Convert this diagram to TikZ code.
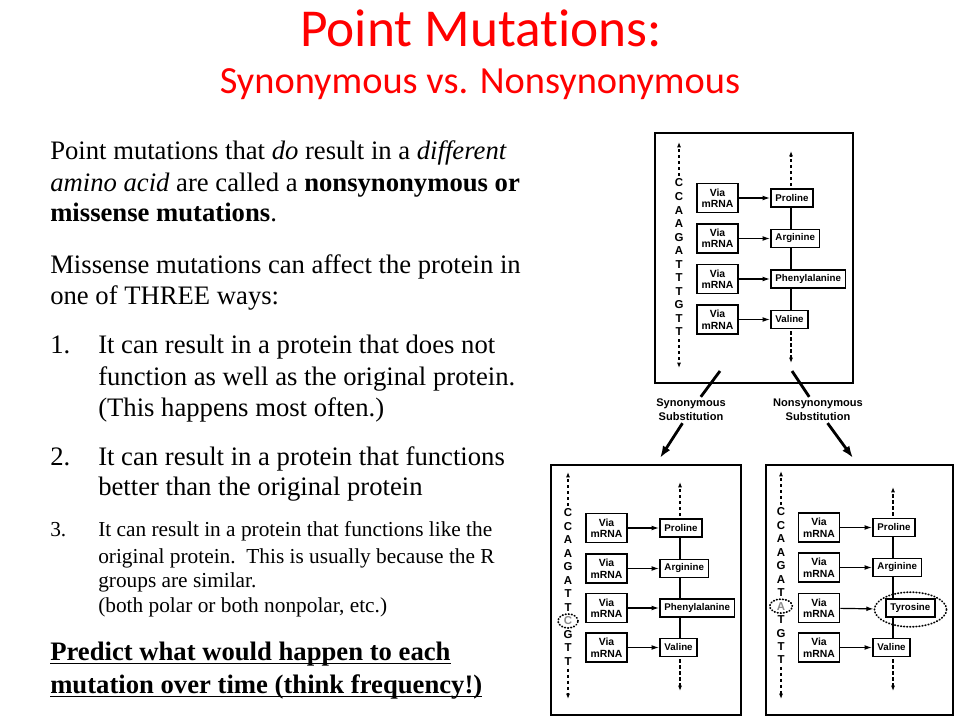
\documentclass[tikz,border=0pt]{standalone}
\usepackage{fontspec}
\setmainfont{Liberation Serif}
\newfontfamily\calibrifont[Ligatures=NoCommon]{Carlito}
\newfontfamily\arialfont{Liberation Sans}
\usetikzlibrary{arrows.meta,shapes.geometric}
\definecolor{titlered}{RGB}{255,0,0}
\definecolor{mutgray}{RGB}{140,140,140}
\newcommand{\myul}[1]{\setbox0\hbox{#1}\rlap{\rule[-3.3pt]{\wd0}{1.1pt}}\box0}
\begin{document}
\begin{tikzpicture}[x=0.75pt,y=-0.75pt,
  title/.style={anchor=base, inner sep=0, text=titlered},
  body/.style={anchor=base west, inner sep=0, font=\fontsize{20}{23}\selectfont},
  smalltext/.style={anchor=base west, inner sep=0, font=\fontsize{16}{18.4}\selectfont},
  predict/.style={anchor=base west, inner sep=0, font=\bfseries\fontsize{20}{23}\selectfont},
  panel/.style={draw, line width=2.1pt, inner sep=0},
  via/.style={draw, line width=1.2pt, minimum width=30.75pt, minimum height=21.75pt, inner sep=0, align=center, font=\arialfont\bfseries\fontsize{7.8}{8.6}\selectfont},
  amino/.style={draw, fill=white, line width=1.2pt, anchor=west, minimum height=13.5pt, inner xsep=3.5pt, inner ysep=0, font=\arialfont\bfseries\fontsize{7.3}{8}\selectfont},
  dna/.style={inner sep=0.6pt, font=\arialfont\bfseries\fontsize{8.6}{9}\selectfont},
  dnaarr/.style={line width=0.9pt, dash pattern=on 2.5pt off 2pt, shorten <=1.5pt, -{Latex[length=4pt,width=3pt]}},
  colline/.style={line width=1pt},
  viaarr/.style={line width=0.9pt, -{Latex[length=5.5pt,width=3.6pt]}},
  bigarr/.style={line width=2.1pt},
  bigarrh/.style={line width=2.1pt, -{Latex[length=9pt,width=6.5pt]}},
  sublabel/.style={align=center, inner sep=1.5pt, font=\arialfont\bfseries\fontsize{8.3}{10.5}\selectfont},
  mutring/.style={draw, ellipse, line width=1.3pt, dash pattern=on 0.5pt off 1.8pt, line cap=round, inner sep=0}
]
\fill[white] (0,0) rectangle (960,720);
\useasboundingbox (0,0) rectangle (960,720);

% ---------- titles
\node[title, font=\calibrifont\fontsize{40}{44}\selectfont] (t1) at (481,47) {Point Mutations:};
\node[title, font=\calibrifont\fontsize{28.8}{32}\selectfont] (t2) at (480,94) {Synonymous vs. Nonsynonymous};

% ---------- body text
\node[body] (p1a) at (50,160) {Point mutations that \textit{do} result in a \textit{different}};
\node[body] (p1b) at (50,192) {\textit{amino acid} are called a \textbf{nonsynonymous or}};
\node[body] (p1c) at (50,222) {\textbf{missense mutations}.};
\node[body] (p2a) at (50,274) {Missense mutations can affect the protein in};
\node[body] (p2b) at (50,304.5) {one of THREE ways:};
\node[body] (n1) at (50,353) {1.};
\node[body] (i1a) at (98,353) {It can result in a protein that does not};
\node[body] (i1b) at (98,385) {function as well as the original protein.};
\node[body] (i1c) at (98,416) {(This happens most often.)};
\node[body] (n2) at (50,465) {2.};
\node[body] (i2a) at (98,465) {It can result in a protein that functions};
\node[body] (i2b) at (98,495) {better than the original protein};
\node[smalltext] (n3) at (50,536) {3.};
\node[smalltext] (i3a) at (98,536) {It can result in a protein that functions like the};
\node[smalltext] (i3b) at (98,563) {original protein.\ \ This is usually because the R};
\node[smalltext] (i3c) at (98,587) {groups are similar.};
\node[smalltext] (i3d) at (98,612) {(both polar or both nonpolar, etc.)};
\node[predict] (q1) at (50,660) {\myul{Predict what would happen to each}};
\node[predict] (q2) at (50,693) {\myul{mutation over time (think frequency!)}};

% ---------- panels
\node[panel, minimum width=148.5pt, minimum height=187.5pt] (PT) at (754,258) {};
\node[panel, minimum width=142.5pt, minimum height=187.5pt] (PL) at (646,590) {};
\node[panel, minimum width=140.25pt, minimum height=187.5pt] (PR) at (859.5,590) {};

% ===== top panel
\foreach \L/\c [count=\i] in {C/black,C/black,A/black,A/black,G/black,A/black,T/black,T/black,T/black,G/black,T/black,T/black}
  \node[dna, text=\c] (td\i) at ({679},{183+(\i-1)*13.55}) {\L};
\coordinate (tdTop) at (679,142);
\coordinate (tdBot) at (679,368);
\draw[dnaarr] (td1) -- (tdTop);
\draw[dnaarr] (td12) -- (tdBot);

\foreach \y [count=\i] in {198,238.5,279,319.5}
  \node[via] (tv\i) at (717.5,\y) {Via\\mRNA};
\coordinate (tcol) at (791,0);
\coordinate (taTop) at (791,151);
\coordinate (taBot) at (791,363);
\draw[colline] (taTop |- 0,200) -- (taTop |- 0,320);
\node[amino] (ta1) at (770,198) {Proline};
\node[amino] (ta2) at (770,238.5) {Arginine};
\node[amino] (ta3) at (770,279) {Phenylalanine};
\node[amino] (ta4) at (770,319.5) {Valine};
\draw[dnaarr] (ta1.north -| tcol) -- (taTop);
\draw[dnaarr] (ta4.south -| tcol) -- (taBot);
\foreach \i in {1,2,3,4} \draw[viaarr] (tv\i) -- (ta\i);

% ===== bottom-left panel (synonymous)
\foreach \L/\c [count=\i] in {C/black,C/black,A/black,A/black,G/black,A/black,T/black,T/black,C/mutgray,G/black,T/black,T/black}
  \node[dna, text=\c] (ld\i) at ({568},{513+(\i-1)*13.5}) {\L};
\coordinate (ldTop) at (568,472);
\coordinate (ldBot) at (568,699);
\draw[dnaarr] (ld1) -- (ldTop);
\draw[dnaarr] (ld12) -- (ldBot);
\node[mutring, minimum width=15pt, minimum height=10.5pt] (lring) at (ld9) {};

\foreach \y [count=\i] in {528,568.5,608,647.5}
  \node[via] (lv\i) at (606.5,\y) {Via\\mRNA};
\coordinate (lcol) at (680,0);
\coordinate (laTop) at (680,482);
\coordinate (laBot) at (680,691);
\draw[colline] (laTop |- 0,530) -- (laTop |- 0,646);
\node[amino] (la1) at (659,528) {Proline};
\node[amino] (la2) at (659,568.5) {Arginine};
\node[amino] (la3) at (659,608) {Phenylalanine};
\node[amino] (la4) at (659,647.5) {Valine};
\draw[dnaarr] (la1.north -| lcol) -- (laTop);
\draw[dnaarr] (la4.south -| lcol) -- (laBot);
\foreach \i in {1,2,3,4} \draw[viaarr] (lv\i) -- (la\i);

% ===== bottom-right panel (nonsynonymous)
\foreach \L/\c [count=\i] in {C/black,C/black,A/black,A/black,G/black,A/black,T/black,A/mutgray,T/black,G/black,T/black,T/black}
  \node[dna, text=\c] (rd\i) at ({781},{512+(\i-1)*13.45}) {\L};
\coordinate (rdTop) at (781,471);
\coordinate (rdBot) at (781,699);
\draw[dnaarr] (rd1) -- (rdTop);
\draw[dnaarr] (rd12) -- (rdBot);
\node[mutring, minimum width=17pt, minimum height=10.5pt] (rring) at (rd8) {};

\foreach \y [count=\i] in {527.5,567.5,608,647.5}
  \node[via] (rv\i) at (819,\y) {Via\\mRNA};
\coordinate (rcol) at (893,0);
\coordinate (raTop) at (893,487);
\coordinate (raBot) at (893,691);
\draw[colline] (raTop |- 0,530) -- (raTop |- 0,646);
\node[amino] (ra1) at (872,527.5) {Proline};
\node[amino] (ra2) at (872,567.5) {Arginine};
\node[amino] (ra3) at (885,608) {Tyrosine};
\node[amino] (ra4) at (872,647.5) {Valine};
\node[mutring, minimum width=54pt, minimum height=26pt] (tyr) at (910.5,609.5) {};
\draw[dnaarr] (ra1.north -| rcol) -- (raTop);
\draw[dnaarr] (ra4.south -| rcol) -- (raBot);
\draw[viaarr] (rv1) -- (ra1);
\draw[viaarr] (rv2) -- (ra2);
\draw[viaarr] (rv3) -- (tyr);
\draw[viaarr] (rv4) -- (ra4);

% ---------- substitution arrows
\node[sublabel] (syn) at (691,410) {Synonymous\\Substitution};
\node[sublabel] (non) at (818,410) {Nonsynonymous\\Substitution};
\coordinate (s1) at (720,371);
\coordinate (e1) at (660,458);
\coordinate (s2) at (792,371);
\coordinate (e2) at (853,458);
\draw[bigarr] (s1) -- (syn);
\draw[bigarrh] (syn) -- (e1);
\draw[bigarr] (s2) -- (non);
\draw[bigarrh] (non) -- (e2);
\end{tikzpicture}
\end{document}
